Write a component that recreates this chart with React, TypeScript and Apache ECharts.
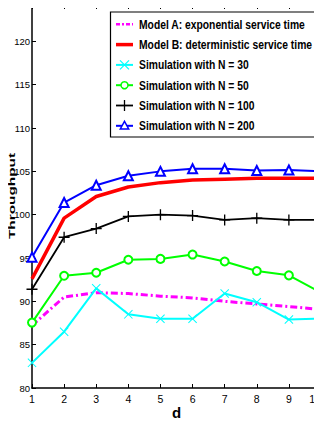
import React, { useEffect, useRef } from "react";
import * as echarts from "echarts";

const dValues = [1, 2, 3, 4, 5, 6, 7, 8, 9, 10];
const modelA = [87.2, 90.5, 91.0, 90.9, 90.6, 90.4, 90.0, 89.7, 89.4, 89.05];
const modelB = [92.6, 99.6, 102.1, 103.2, 103.7, 104.0, 104.1, 104.2, 104.2, 104.2];
const simN30 = [82.9, 86.5, 91.5, 88.5, 88.0, 88.0, 90.9, 89.9, 87.9, 88.0];
const simN50 = [87.55, 92.95, 93.3, 94.8, 94.9, 95.4, 94.6, 93.5, 93.0, 91.0];
const simN100 = [91.4, 97.4, 98.4, 99.8, 100.0, 99.9, 99.4, 99.6, 99.4, 99.4];
const simN200 = [95.1, 101.4, 103.4, 104.5, 105.0, 105.3, 105.3, 105.1, 105.15, 105.0];

const seriesNames = [
  "Model A: exponential service time",
  "Model B: deterministic service time",
  "Simulation with N = 30",
  "Simulation with N = 50",
  "Simulation with N = 100",
  "Simulation with N = 200",
];
const seriesColors = ["#ff00ff", "#ff0000", "#00ffff", "#00ff00", "#000000", "#0000ff"];
const yAxisTitle = "Throughput";
const xAxisTitle = "d";

const FONT = "'Liberation Sans', Arial, sans-serif";

const plusPath = "path://M4.4,0H5.6V10H4.4Z M0,4.4H10V5.6H0Z";
const xPath = "path://M0,0.8L0.8,0L10,9.2L9.2,10Z M9.2,0L10,0.8L0.8,10L0,9.2Z";

const pair = (ys: number[]) => dValues.map((d, i) => [d, ys[i]]);

function legendGraphics() {
  const els: any[] = [];
  const x0 = 110.5;
  const y0 = 12;
  els.push({
    type: "rect",
    z: 99,
    silent: true,
    shape: { x: x0, y: y0, width: 209.5, height: 125 },
    style: { fill: "#fff", stroke: "#000", lineWidth: 1.2 },
  });
  const lx1 = 116;
  const lx2 = 133;
  const cx = (lx1 + lx2) / 2;
  seriesNames.forEach((name, i) => {
    const cy = 24.3 + i * 20.3;
    const color = seriesColors[i];
    const lineStyle: any = { stroke: color, lineWidth: 2 };
    if (i === 0) {
      lineStyle.lineWidth = 2.5;
      lineStyle.lineDash = [4, 2, 2, 2];
    }
    if (i === 1) lineStyle.lineWidth = 3.5;
    if (i === 4) lineStyle.lineWidth = 1.8;
    els.push({ type: "line", z: 100, silent: true, shape: { x1: lx1, y1: cy, x2: lx2, y2: cy }, style: lineStyle });
    if (i === 2) {
      els.push({ type: "line", z: 101, shape: { x1: cx - 4.5, y1: cy - 4.5, x2: cx + 4.5, y2: cy + 4.5 }, style: { stroke: color, lineWidth: 1.3 } });
      els.push({ type: "line", z: 101, shape: { x1: cx - 4.5, y1: cy + 4.5, x2: cx + 4.5, y2: cy - 4.5 }, style: { stroke: color, lineWidth: 1.3 } });
    }
    if (i === 3) {
      els.push({ type: "circle", z: 101, shape: { cx, cy, r: 3.5 }, style: { fill: "#fff", stroke: color, lineWidth: 1.5 } });
    }
    if (i === 4) {
      els.push({ type: "line", z: 101, shape: { x1: cx, y1: cy - 5.5, x2: cx, y2: cy + 5.5 }, style: { stroke: color, lineWidth: 1.3 } });
    }
    if (i === 5) {
      els.push({
        type: "polygon",
        z: 101,
        shape: { points: [[cx, cy - 4.5], [cx + 4.2, cy + 3.2], [cx - 4.2, cy + 3.2]] },
        style: { fill: "#fff", stroke: color, lineWidth: 1.5 },
      });
    }
    els.push({
      type: "text",
      z: 101,
      x: 139,
      y: cy,
      scaleX: 0.765,
      style: { text: name, fontFamily: FONT, fontWeight: "bold", fontSize: 13.5, fill: "#000", verticalAlign: "middle", align: "left" },
    });
  });
  els.push({
    type: "text",
    z: 101,
    x: 12,
    y: 196,
    rotation: Math.PI / 2,
    scaleX: 1.62,
    style: { text: yAxisTitle, fontFamily: FONT, fontWeight: "bold", fontSize: 9.5, fill: "#000", verticalAlign: "middle", align: "center" },
  });
  return els;
}

export default function App() {
  const ref = useRef<HTMLDivElement>(null);
  useEffect(() => {
    if (!ref.current) return;
    const chart = echarts.init(ref.current, undefined, { renderer: "svg" });
    const axisLine = { show: true, lineStyle: { color: "#000", width: 1.5 } };
    chart.setOption({
      animation: false,
      backgroundColor: "#fff",
      grid: { left: 32, right: 1, top: 5, bottom: 38, containLabel: false, outerBoundsMode: "none" },
      xAxis: [
        {
          type: "value",
          min: 1,
          max: 10,
          interval: 1,
          name: xAxisTitle,
          nameLocation: "middle",
          nameGap: 17,
          nameMoveOverlap: false,
          nameTextStyle: { fontFamily: FONT, fontWeight: "bold", fontSize: 15, color: "#000" },
          axisLine,
          axisTick: { inside: true, length: 4, lineStyle: { color: "#000" } },
          axisLabel: { fontFamily: FONT, fontSize: 10.5, color: "#000", margin: 5, alignMaxLabel: "right", showMaxLabel: true },
          splitLine: { show: false },
        },
        {
          type: "value",
          position: "top",
          min: 1,
          max: 10,
          interval: 1,
          axisLine,
          axisTick: { inside: true, length: 4, lineStyle: { color: "#000" } },
          axisLabel: { show: false },
          splitLine: { show: false },
        },
      ],
      yAxis: [
        {
          type: "value",
          min: 80,
          max: 124.2,
          interval: 5,
          axisLine,
          axisTick: { inside: true, length: 4, lineStyle: { color: "#000" } },
          axisLabel: {
            fontFamily: FONT,
            fontSize: 9.5,
            color: "#000",
            margin: 2,
            formatter: (v: number) => (Math.abs(v % 5) < 1e-9 ? String(v) : ""),
          },
          splitLine: { show: false },
        },
        {
          type: "value",
          position: "right",
          min: 80,
          max: 124.2,
          interval: 5,
          axisLine,
          axisTick: { inside: true, length: 4, lineStyle: { color: "#000" } },
          axisLabel: { show: false },
          splitLine: { show: false },
        },
      ],
      graphic: legendGraphics(),
      series: [
        {
          name: seriesNames[0],
          type: "line",
          data: pair(modelA),
          symbol: "none",
          lineStyle: { color: seriesColors[0], width: 3, type: [7, 3, 2, 3] },
          itemStyle: { color: seriesColors[0] },
        },
        {
          name: seriesNames[1],
          type: "line",
          data: pair(modelB),
          symbol: "none",
          lineStyle: { color: seriesColors[1], width: 3.5 },
          itemStyle: { color: seriesColors[1] },
        },
        {
          name: seriesNames[2],
          type: "line",
          data: pair(simN30),
          symbol: xPath,
          symbolSize: 9,
          lineStyle: { color: seriesColors[2], width: 2 },
          itemStyle: { color: seriesColors[2], borderWidth: 0 },
        },
        {
          name: seriesNames[3],
          type: "line",
          data: pair(simN50),
          symbol: "emptyCircle",
          symbolSize: 8,
          lineStyle: { color: seriesColors[3], width: 2 },
          itemStyle: { color: seriesColors[3], borderColor: seriesColors[3], borderWidth: 1.5 },
        },
        {
          name: seriesNames[4],
          type: "line",
          data: pair(simN100),
          symbol: plusPath,
          symbolSize: 11,
          lineStyle: { color: seriesColors[4], width: 1.8 },
          itemStyle: { color: seriesColors[4], borderWidth: 0 },
        },
        {
          name: seriesNames[5],
          type: "line",
          data: pair(simN200),
          symbol: "emptyTriangle",
          symbolSize: 9,
          lineStyle: { color: seriesColors[5], width: 2 },
          itemStyle: { color: seriesColors[5], borderColor: seriesColors[5], borderWidth: 1.5 },
        },
      ],
    });
    return () => chart.dispose();
  }, []);
  return <div ref={ref} style={{ width: 322, height: 426, margin: -8 }} />;
}
